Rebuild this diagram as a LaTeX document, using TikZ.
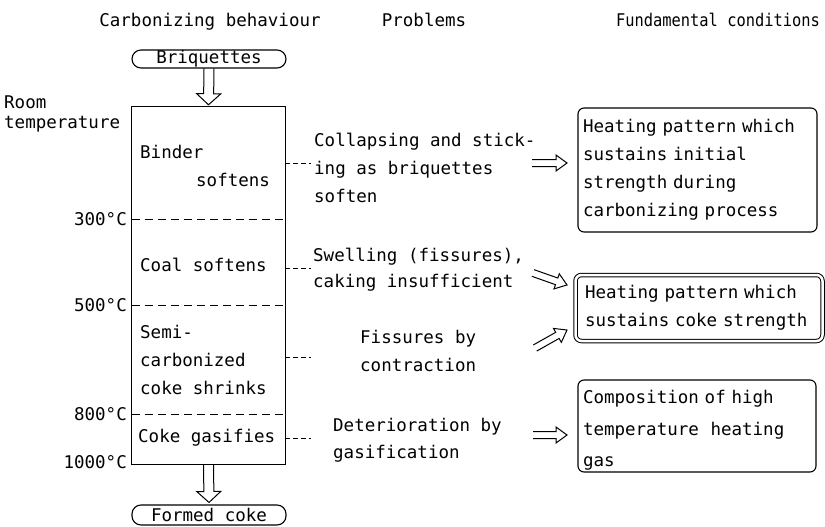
\documentclass[tikz,border=0pt]{standalone}
\usepackage{fontspec}
\setmainfont{DejaVu Sans Mono}
\usetikzlibrary{calc}
\newcommand\holarr[5]{%
  \coordinate (hh) at ($(#2)!#5!(#1)$);
  \draw[arrline] ($(#1)!#3!90:(#2)$) -- ($(hh)!#3!-90:(#1)$) -- ($(hh)!#4!-90:(#1)$) -- (#2)
    -- ($(hh)!#4!90:(#1)$) -- ($(hh)!#3!90:(#1)$) -- ($(#1)!#3!-90:(#2)$);
}
\begin{document}
\begin{tikzpicture}[x=1pt,y=-1pt,
  every node/.style={font=\fontsize{17.5pt}{28pt}\selectfont, inner sep=0pt},
  boxline/.style={line width=1.1pt},
  arrline/.style={line width=1pt, line join=miter},
  divider/.style={line width=1pt, dash pattern=on 8pt off 5pt},
  stub/.style={line width=1pt, dash pattern=on 5pt off 3pt},
  stage/.style={minimum width=153pt},
  pill/.style={draw, line width=1.1pt, rounded corners=9pt, minimum width=154pt, minimum height=18pt},
  txt/.style={align=left, anchor=west},
  cond/.style={draw, line width=1.1pt, rounded corners=6pt, align=left, inner xsep=5pt}
]
\useasboundingbox (0,0) rectangle (825,527);

% column titles
\node[anchor=base] (t1) at (210,27) {Carbonizing behaviour};
\node[anchor=base] (t2) at (424,27) {Problems};
\node[anchor=base] (t3) at (718,27) {\scalebox{0.88}[1]{Fundamental conditions}};

% carbonizing column
\node[pill] (brq) at (209,59) {Briquettes};
\node[stage, minimum height=112pt] (s1) at (208.5,163) {};
\node[stage, minimum height=86pt] (s2) at (208.5,262) {};
\node[stage, minimum height=109pt] (s3) at (208.5,359.5) {};
\node[stage, minimum height=50pt] (s4) at (208.5,439) {};
\node[pill, minimum height=20pt] (fc) at (209,515) {Formed coke};

\draw[boxline] (s1.north west) rectangle (s4.south east);
\draw[divider] (s1.south west) -- (s1.south east);
\draw[divider] (s2.south west) -- (s2.south east);
\draw[divider] (s3.south west) -- (s3.south east);

\node[txt] (b1) at (140,166) {Binder\\\hspace*{56pt}softens};
\node[txt] (b2) at (140,265) {Coal softens};
\node[txt] (b3) at (140,360) {Semi-\\carbonized\\coke shrinks};
\node[txt] (b4) at (138,438) {Coke gasifies};

% temperatures
\node[txt, font=\fontsize{17.5pt}{20pt}\selectfont] (rt) at (4,114) {Room\\temperature};
\node[anchor=east] (T300) at (127,219) {300°C};
\node[anchor=east] (T500) at (127,305) {500°C};
\node[anchor=east] (T800) at (127,414) {800°C};
\node[anchor=east] (T1000) at (127,462) {1000°C};

% vertical arrows
\coordinate (v1) at ($(s1.north)+(0,-2)$);
\holarr{brq.south}{v1}{5pt}{12pt}{11pt}
\coordinate (v2) at ($(fc.north)+(0,-2)$);
\holarr{s4.south}{v2}{5pt}{12pt}{11pt}

% stubs
\coordinate (e1) at (311,163);
\coordinate (e2) at (311,268);
\coordinate (e3) at (311,357);
\coordinate (e4) at (311,438);
\draw[stub] (s1.east |- e1) -- (e1);
\draw[stub] (s2.east |- e2) -- (e2);
\draw[stub] (s3.east |- e3) -- (e3);
\draw[stub] (s4.east |- e4) -- (e4);

% problems
\node[txt] (p1) at (314,168) {Collapsing and stick-\\ing as briquettes\\soften};
\node[txt, font=\fontsize{17.5pt}{26pt}\selectfont] (p2) at (313,270) {Swelling (fissures),\\caking insufficient};
\node[txt] (p3) at (360,351) {Fissures by\\contraction};
\node[txt, font=\fontsize{17.5pt}{27pt}\selectfont] (p4) at (333,440) {Deterioration by\\gasification};

% conditions
\node[cond, text width=229pt, minimum width=239pt, minimum height=124pt] (c1) at (697.5,170)
  {Heating pattern which\\sustains initial\\strength during\\carbonizing process};
\node[cond, double, double distance=2.5pt, line width=1pt, inner xsep=9.5pt, text width=228pt,
  minimum width=247pt, minimum height=66pt] (c2) at (699,308)
  {Heating pattern which\\sustains coke strength};
\node[cond, font=\fontsize{17.5pt}{31.5pt}\selectfont, text width=228pt, minimum width=238pt,
  minimum height=92pt] (c3) at (697,426)
  {\rule{0pt}{22pt}Composition of high\\temperature\ \ heating\\gas};

% problem -> condition arrows
\coordinate (a1s) at (532,163); \coordinate (a1t) at (567,163);
\coordinate (a2s) at (533,273); \coordinate (a2t) at (567,285);
\coordinate (a3s) at (535,348); \coordinate (a3t) at (567,330);
\coordinate (a4s) at (533,435); \coordinate (a4t) at (567,435);
\holarr{a1s}{a1t}{3.5pt}{8pt}{11pt}
\holarr{a2s}{a2t}{3.5pt}{8pt}{11pt}
\holarr{a3s}{a3t}{3.5pt}{8pt}{11pt}
\holarr{a4s}{a4t}{3.5pt}{8pt}{11pt}
\end{tikzpicture}
\end{document}
